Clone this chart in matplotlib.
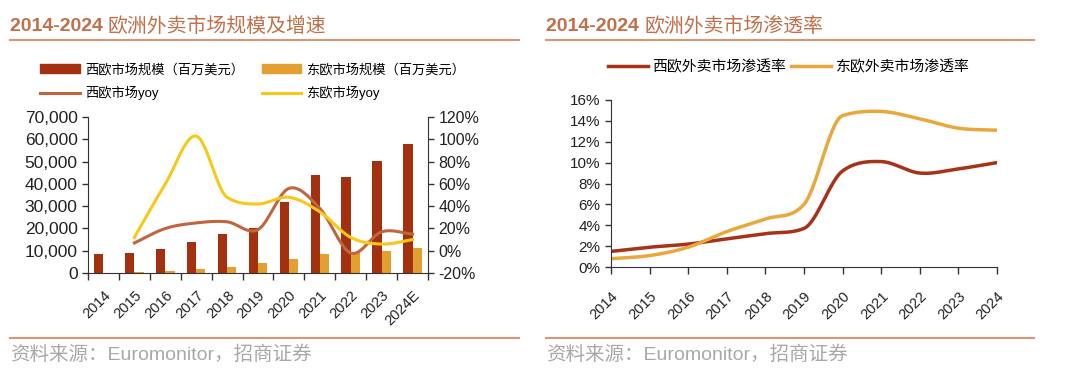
import numpy as np
import matplotlib
matplotlib.use("Agg")
import matplotlib.pyplot as plt
from matplotlib.ticker import FuncFormatter, FixedLocator
from matplotlib.patches import Patch
from matplotlib.lines import Line2D

plt.rcParams['font.family'] = ['Liberation Sans', 'Noto Sans CJK SC', 'DejaVu Sans']

# left chart: market size (USD mn) and yoy growth
years_left = ['2014', '2015', '2016', '2017', '2018', '2019', '2020', '2021', '2022', '2023', '2024E']
west_size = [8500, 9000, 10900, 13800, 17400, 20300, 32000, 43800, 42900, 50500, 58000]
east_size = [200, 400, 900, 1800, 2700, 4500, 6300, 8500, 9400, 9900, 11200]
west_yoy = [np.nan, 7, 20, 25, 26, 19, 56, 38, -2, 17, 15]
east_yoy = [np.nan, 12, 60, 103, 48, 42, 48, 35, 12, 6, 10]

# right chart: penetration rate (%)
years_right = ['2014', '2015', '2016', '2017', '2018', '2019', '2020', '2021', '2022', '2023', '2024']
west_pen = [1.5, 1.9, 2.2, 2.7, 3.2, 3.7, 9.2, 10.1, 9.0, 9.4, 10.0]
east_pen = [0.8, 1.1, 1.9, 3.4, 4.6, 6.0, 14.5, 14.9, 14.2, 13.3, 13.1]

C_WBAR = '#A3300F'
C_EBAR = '#E3A030'
C_WYOY = '#C0653E'
C_EYOY = '#F7C81A'
C_WPEN = '#A63218'
C_EPEN = '#E8A83C'
C_TITLE = '#C0704A'
C_RULE = '#D89878'
C_TXT = '#222222'


def smooth(x, y, n=30):
    # cardinal spline like excel's smoothed line, tangents clipped to avoid big overshoot
    x = np.asarray(x, float)
    y = np.asarray(y, float)
    ok = ~np.isnan(y)
    x, y = x[ok], y[ok]
    d = np.diff(y)
    m = np.empty_like(y)
    m[0], m[-1] = d[0], d[-1]
    for i in range(1, len(y) - 1):
        m[i] = (d[i - 1] + d[i]) / 2
        if d[i - 1] * d[i] > 0:
            lim = 3 * min(abs(d[i - 1]), abs(d[i]))
            m[i] = np.sign(m[i]) * min(abs(m[i]), lim)
    t = np.linspace(0, 1, n)
    h00 = 2 * t ** 3 - 3 * t ** 2 + 1
    h10 = t ** 3 - 2 * t ** 2 + t
    h01 = -2 * t ** 3 + 3 * t ** 2
    h11 = t ** 3 - t ** 2
    xs, ys = [], []
    for i in range(len(y) - 1):
        xs.append(x[i] + t * (x[i + 1] - x[i]))
        ys.append(h00 * y[i] + h10 * m[i] + h01 * y[i + 1] + h11 * m[i + 1])
    return np.concatenate(xs), np.concatenate(ys)


fig = plt.figure(figsize=(10.8, 3.73), dpi=100)

# titles, rules and source notes
for x0, x1, title in ((0.009, 0.481, '欧洲外卖市场规模及增速'), (0.506, 0.957, '欧洲外卖市场渗透率')):
    t1 = fig.text(x0, 0.928, '2014-2024 ', fontsize=14, fontweight='bold', color=C_TITLE,
                  family='Liberation Sans', va='center')
    fig.add_artist(plt.Annotation(title, xy=(1, 0.5), xycoords=t1, va='center', ha='left',
                                  fontsize=14.3, color=C_TITLE, family='Noto Sans CJK SC'))
    fig.add_artist(Line2D([x0, x1], [0.893, 0.893], color=C_RULE, lw=1.5))
    fig.add_artist(Line2D([x0, x1], [0.094, 0.094], color=C_RULE, lw=1.5))
    fig.text(x0, 0.048, '资料来源：Euromonitor，招商证券', fontsize=14, color='#A8A8A8', va='center')

# ---- left chart ----
ax = fig.add_axes([0.0815, 0.268, 0.3148, 0.418])
idx = np.arange(len(years_left))
w = 0.3
ax.bar(idx - w / 2, west_size, width=w, color=C_WBAR, zorder=2)
ax.bar(idx + w / 2, east_size, width=w, color=C_EBAR, zorder=2)
ax.set_xlim(-0.5, len(years_left) - 0.5)
ax.set_ylim(0, 70000)
ax.set_yticks(np.arange(0, 70001, 10000))
ax.yaxis.set_major_formatter(FuncFormatter(lambda v, p: f'{int(v):,}'))
ax.xaxis.set_major_locator(FixedLocator(np.arange(-0.5, len(years_left), 1)))
ax.xaxis.set_minor_locator(FixedLocator(idx))
ax.set_xticklabels([], minor=False)
ax.set_xticklabels(years_left, minor=True, rotation=45, ha='right', va='top', rotation_mode='anchor')
ax.tick_params(axis='x', which='major', length=5, width=1, color='#333333')
ax.tick_params(axis='x', which='minor', length=0, pad=11, labelsize=10.5, labelcolor=C_TXT)
ax.tick_params(axis='y', length=4, width=1, color='#333333', labelsize=12.5, labelcolor=C_TXT)
ax.spines['top'].set_visible(False)
ax.spines['right'].set_visible(False)
for s in ('left', 'bottom'):
    ax.spines[s].set_color('#333333')

ax2 = ax.twinx()
sx, sy = smooth(idx, west_yoy)
ax2.plot(sx, sy, color=C_WYOY, lw=2.2, zorder=3)
sx, sy = smooth(idx, east_yoy)
ax2.plot(sx, sy, color=C_EYOY, lw=2.2, zorder=3)
ax2.set_ylim(-20, 120)
ax2.set_yticks(np.arange(-20, 121, 20))
ax2.yaxis.set_major_formatter(FuncFormatter(lambda v, p: f'{int(v)}%'))
ax2.tick_params(axis='y', length=4, width=1, color='#333333', labelsize=11.5, labelcolor=C_TXT)
ax2.spines['top'].set_visible(False)
ax2.spines['left'].set_visible(False)
ax2.spines['bottom'].set_visible(False)
ax2.spines['right'].set_color('#333333')

handles = [Patch(color=C_WBAR), Line2D([], [], color=C_WYOY, lw=2.2),
           Patch(color=C_EBAR), Line2D([], [], color=C_EYOY, lw=2.2)]
labels = ['西欧市场规模（百万美元）', '西欧市场yoy', '东欧市场规模（百万美元）', '东欧市场yoy']
fig.legend(handles, labels, ncol=2, loc='upper left', bbox_to_anchor=(0.037, 0.830),
           frameon=False, fontsize=9.5, handlelength=3.0, handleheight=0.6, handletextpad=0.4,
           columnspacing=1.35, labelspacing=0.75, borderpad=0, borderaxespad=0)

# ---- right chart ----
bx = fig.add_axes([0.5657, 0.284, 0.3574, 0.448])
ridx = np.arange(len(years_right))
sx, sy = smooth(ridx, west_pen)
bx.plot(sx, sy, color=C_WPEN, lw=2.5, label='西欧外卖市场渗透率')
sx, sy = smooth(ridx, east_pen)
bx.plot(sx, sy, color=C_EPEN, lw=2.5, label='东欧外卖市场渗透率')
bx.set_xlim(0, len(years_right) - 1)
bx.set_ylim(0, 16)
bx.set_yticks(np.arange(0, 17, 2))
bx.yaxis.set_major_formatter(FuncFormatter(lambda v, p: f'{int(v)}%'))
bx.set_xticks(ridx)
bx.set_xticklabels(years_right, rotation=45, ha='right', va='top', rotation_mode='anchor')
bx.tick_params(axis='x', length=5, width=1, color='#333333', pad=11, labelsize=10.5, labelcolor=C_TXT)
bx.tick_params(axis='y', length=4, width=1, color='#333333', labelsize=11, labelcolor=C_TXT)
bx.spines['top'].set_visible(False)
bx.spines['right'].set_visible(False)
for s in ('left', 'bottom'):
    bx.spines[s].set_color('#333333')
fig.legend(*bx.get_legend_handles_labels(), ncol=2, loc='center left', bbox_to_anchor=(0.563, 0.820),
           frameon=False, fontsize=10.7, handlelength=2.7, handletextpad=0.3, columnspacing=0.3,
           borderpad=0, borderaxespad=0)

fig.savefig('out.png', dpi=100)
